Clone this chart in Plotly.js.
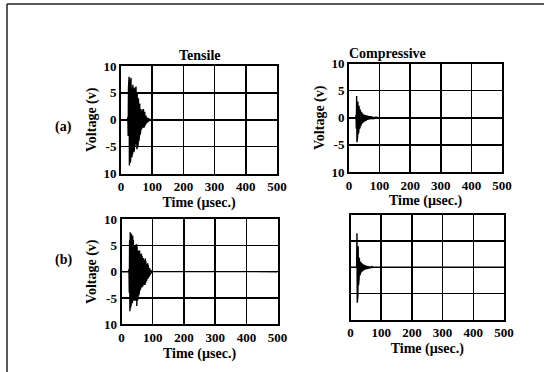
<!DOCTYPE html>
<html>
<head>
<meta charset="utf-8">
<script src="https://cdn.plot.ly/plotly-3.0.1.min.js"></script>
<style>html,body{margin:0;padding:0;background:#fff;}#chart{width:544px;height:372px;}</style>
</head>
<body>
<div id="chart"></div>
<script>
// Time axis shared by all four records (µsec.)
const timeUs = [0,
  20,21,22,23,24,25,26,27,28,29,30,31,32,33,34,35,36,37,38,39,
  40,41,42,43,44,45,46,47,48,49,50,51,52,53,54,55,56,57,58,59,
  60,61,62,63,64,65,66,67,68,69,70,71,72,73,74,75,76,77,78,79,
  80,81,82,83,84,85,86,87,88,89,90,91,92,93,94,95,96,97,98,99,
  100,500];

// (a) Tensile voltage (v)
const tensileA = [0,
  0,0,0.5,-3,6,-7.5,8,-8.5,7.5,-8,7.2,-7.5,7.8,-6.5,7,-7,6,-6.5,6.5,-5.5,
  6,-6,5,-5.5,5.8,-5,6,-4.5,6.2,-5,5.5,-5.5,5,-5.2,4.5,-4.5,4,-4,3.5,-3.2,
  3,-2.8,2.5,-2.2,2,-1.8,1.6,-1.5,1.5,-1.4,1.8,-1.5,2,-1.5,1.8,-1.2,1.5,-1,1,-0.8,
  0.8,-0.6,0.6,-0.5,0.4,-0.4,0.3,-0.3,0.3,-0.2,0.2,-0.2,0.15,-0.15,0.1,-0.1,0.1,-0.1,0.05,-0.05,
  0,0];

// (a) Compressive voltage (v)
const compressiveA = [0,
  0,0,0,0.5,-2,4,-4.5,3.8,-3.5,3,-3,2.5,-2.5,2.2,-2,1.8,-1.8,1.5,-1.5,1.3,
  -1.2,1.1,-1,0.9,-0.9,0.8,-0.8,0.7,-0.7,0.6,-0.6,0.6,-0.5,0.5,-0.5,0.5,-0.45,0.45,-0.4,0.4,
  -0.4,0.4,-0.35,0.35,-0.35,0.3,-0.3,0.3,-0.3,0.3,-0.25,0.25,-0.25,0.25,-0.2,0.2,-0.2,0.2,-0.2,0.15,
  -0.15,0.15,-0.15,0.15,-0.1,0.1,-0.1,0.1,-0.1,0.1,-0.05,0.05,-0.05,0.05,0,0,0,0,0,0,
  0,0];

// (b) Tensile voltage (v)
const tensileB = [0,
  0,0,0,0,0.5,-4,6,-7.5,7.5,-7,7,-6.5,7.2,-6,6.5,-6,6.8,-5.5,6,-5,
  5.5,-5.5,5,-5,4.5,-5.5,5,-6,5.2,-6.5,4.8,-5.5,4.5,-5,4,-4.5,3.8,-4,4,-3.5,
  3.5,-3.2,3.2,-3,3.4,-3,3,-2.8,2.8,-2.5,2.6,-2.4,2.4,-2.2,2.2,-2.5,2.5,-2.2,2,-1.8,
  2,-1.6,1.5,-1.4,1.6,-1.3,1.2,-1,1,-0.8,0.7,-0.6,0.5,-0.4,0.35,-0.3,0.25,-0.2,0.15,-0.1,
  0.05,0];

// (b) Compressive voltage (v)
const compressiveB = [0,
  0,6.5,-6.8,6,-5.5,4,-3.5,2.5,-2.2,1.8,-1.6,1.4,-1.2,1.1,-1,0.9,-0.8,0.8,-0.7,0.6,
  -0.6,0.55,-0.5,0.5,-0.45,0.45,-0.4,0.4,-0.35,0.35,-0.3,0.3,-0.3,0.25,-0.25,0.25,-0.2,0.2,-0.2,0.2,
  -0.15,0.15,-0.15,0.15,-0.1,0.1,-0.1,0.1,-0.1,0.1,-0.05,0.05,-0.05,0.05,0,0,0,0,0,0,
  0,0,0,0,0,0,0,0,0,0,0,0,0,0,0,0,0,0,0,0,
  0,0];

const xTickVals = [0,100,200,300,400,500];
const xTickText = ["0","100","200","300","400","500"];
const yTickVals = [-10,-5,0,5,10];
const yTickText = ["10","-5","0","5","10"];

const FONT = "Liberation Serif, Times New Roman, serif";

function trace(y, xa, ya) {
  return {x: timeUs, y: y, xaxis: xa, yaxis: ya, type: "scatter", mode: "lines",
          line: {color: "#000", width: 1.4}, hoverinfo: "skip", showlegend: false};
}

function xAxis(dom, anchor) {
  return {domain: dom, anchor: anchor, range: [0, 500], tickvals: xTickVals, ticktext: xTickText,
          showgrid: true, gridcolor: "#000", gridwidth: 1.5, zeroline: false,
          showline: true, mirror: true, linecolor: "#000", linewidth: 2, ticks: "",
          tickfont: {family: FONT, size: 13, color: "#000", weight: "bold"},
          title: {text: "Time (µsec.)", standoff: 4, font: {family: FONT, size: 14, color: "#000", weight: "bold"}}};
}
function yAxis(dom, anchor, labels) {
  return {domain: dom, anchor: anchor, range: [-10, 10], tickvals: yTickVals, ticktext: yTickText,
          showticklabels: labels,
          showgrid: true, gridcolor: "#000", gridwidth: 1.5, zeroline: false,
          showline: true, mirror: true, linecolor: "#000", linewidth: 2, ticks: "",
          tickfont: {family: FONT, size: 13, color: "#000", weight: "bold"},
          title: labels ? {text: "Voltage (v)", standoff: 4, font: {family: FONT, size: 14, color: "#000", weight: "bold"}} : {text: ""}};
}

const data = [
  trace(tensileA, "x", "y"),
  trace(compressiveA, "x2", "y2"),
  trace(tensileB, "x3", "y3"),
  trace(compressiveB, "x4", "y4")
];

const W = 544, H = 372;
const px = v => v / W, py = v => 1 - v / H;

const layout = {
  width: W, height: H,
  margin: {l: 0, r: 0, t: 0, b: 0},
  paper_bgcolor: "#fff", plot_bgcolor: "#fff",
  showlegend: false,
  xaxis:  xAxis([px(121), px(277)], "y"),
  yaxis:  yAxis([py(173.5), py(66)], "x", true),
  xaxis2: xAxis([px(349), px(502)], "y2"),
  yaxis2: yAxis([py(172), py(63.5)], "x2", true),
  xaxis3: xAxis([px(121.5), px(277.6)], "y3"),
  yaxis3: yAxis([py(324.4), py(219)], "x3", true),
  xaxis4: xAxis([px(350.5), px(504)], "y4"),
  yaxis4: yAxis([py(319.5), py(215)], "x4", false),
  shapes: [
    {type: "line", xref: "paper", yref: "paper", x0: px(7), y0: py(4), x1: 1, y1: py(4), line: {color: "#222", width: 1.5}},
    {type: "line", xref: "paper", yref: "paper", x0: px(7), y0: py(4), x1: px(7), y1: 0, line: {color: "#222", width: 1.5}}
  ],
  annotations: [
    {text: "Tensile", xref: "paper", yref: "paper", x: px(199.5), y: py(46), showarrow: false, font: {family: FONT, size: 14, color: "#000", weight: "bold"}},
    {text: "Compressive", xref: "paper", yref: "paper", x: px(427.5), y: py(44), showarrow: false, font: {family: FONT, size: 14, color: "#000", weight: "bold"}},
    {text: "(a)", xref: "paper", yref: "paper", x: px(53), y: py(117), showarrow: false, font: {family: FONT, size: 14, color: "#000", weight: "bold"}},
    {text: "(b)", xref: "paper", yref: "paper", x: px(53), y: py(270), showarrow: false, font: {family: FONT, size: 14, color: "#000", weight: "bold"}}
  ]
};

Plotly.newPlot("chart", data, layout, {staticPlot: true, displayModeBar: false});
</script>
</body>
</html>
